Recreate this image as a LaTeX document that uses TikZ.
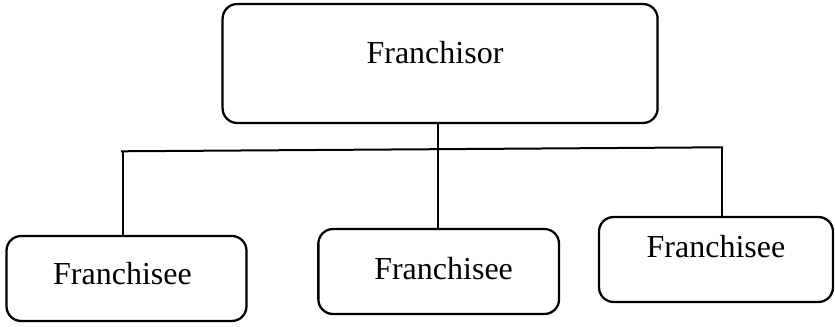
\documentclass[tikz,border=0pt]{standalone}
\usepackage{fontspec}
\setmainfont{Liberation Serif}
\begin{document}
\begin{tikzpicture}[x=0.75pt,y=-0.75pt,
  box/.style={draw, line width=1.7pt, rounded corners=11pt, inner sep=0pt},
  conn/.style={line width=1.5pt},
  lbl/.style={anchor=base, inner sep=0pt, font=\fontsize{24pt}{28pt}\selectfont}]
\useasboundingbox (0,0) rectangle (835,327);
\node[box, minimum width=326.25pt, minimum height=89.25pt] (top) at (440.1,63.5) {};
\node[box, minimum width=180pt, minimum height=63.75pt] (b1) at (126.5,278.5) {};
\node[box, minimum width=180.5pt, minimum height=63.75pt] (b2) at (438.7,271.5) {};
\node[box, minimum width=175.5pt, minimum height=63.75pt] (b3) at (716,259.5) {};
\node[lbl] (t0) at (435,64) {Franchisor};
\node[lbl] (t1) at (122.5,285) {Franchisee};
\node[lbl] (t2) at (443.6,280) {Franchisee};
\node[lbl] (t3) at (716,258) {Franchisee};
\coordinate (hl) at (121,151.3);
\coordinate (hr) at (723,147.3);
\coordinate (c1) at (123.2,151.3);
\coordinate (c3) at (722.4,147.3);
\coordinate (cm) at (437.7,0);
\draw[conn] (hl) -- (hr);
\draw[conn] (cm |- top.south) -- (cm |- b2.north);
\draw[conn] (c1) -- (c1 |- b1.north);
\draw[conn] (c3) -- (c3 |- b3.north);
\end{tikzpicture}
\end{document}
